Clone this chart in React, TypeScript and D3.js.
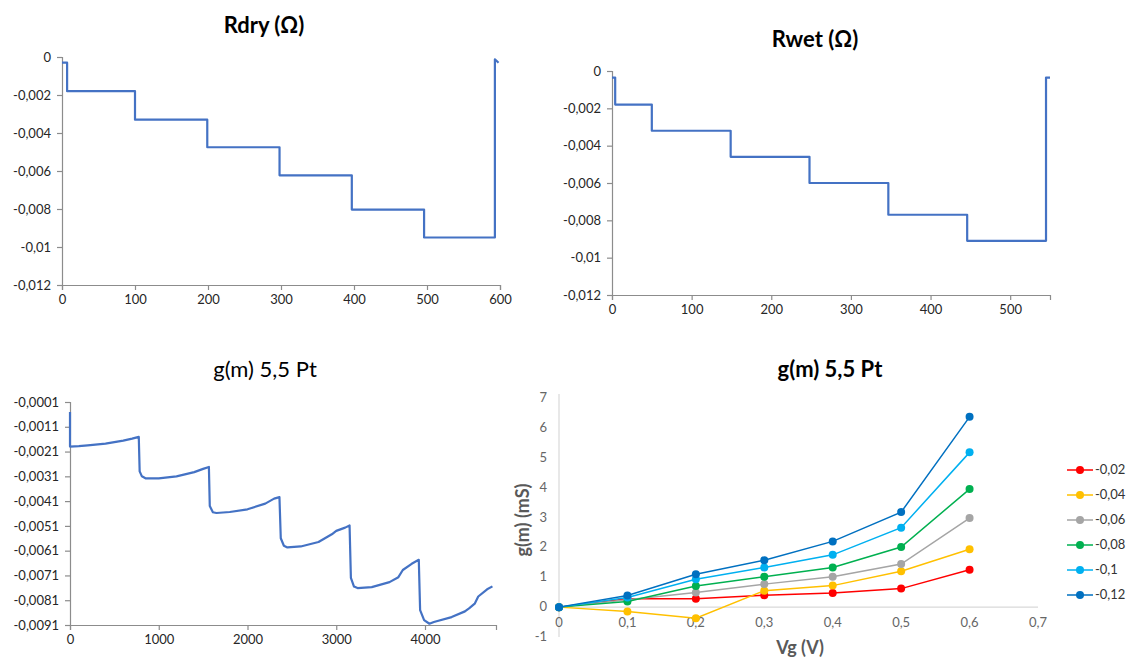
import React, { useEffect, useRef } from 'react';
import * as d3 from 'd3';

// Rdry (Ω) trace
const rdryTime = [0, 7, 7, 100, 100, 199, 199, 298, 298, 397, 397, 496, 496, 593, 593, 598];
const rdryValue = [-0.0003, -0.0003, -0.0018, -0.0018, -0.0033, -0.0033, -0.00475, -0.00475, -0.00623, -0.00623, -0.00803, -0.00803, -0.0095, -0.0095, -0.00012, -0.0003];

// Rwet (Ω) trace
const rwetTime = [0, 4, 4, 50, 50, 149, 149, 248, 248, 347, 347, 446, 446, 545, 545, 550];
const rwetValue = [-0.00035, -0.00035, -0.0018, -0.0018, -0.0032, -0.0032, -0.0046, -0.0046, -0.006, -0.006, -0.0077, -0.0077, -0.0091, -0.0091, -0.00035, -0.00035];

// g(m) 5,5 Pt trace
const gmTime = [0, 0, 100, 200, 400, 600, 700, 775, 785, 810, 850, 1000, 1200, 1400, 1500, 1565, 1575, 1610, 1650, 1800, 2000, 2200, 2300, 2360, 2375, 2410, 2450, 2600, 2800, 2950, 3000, 3100, 3150, 3165, 3200, 3240, 3400, 3600, 3700, 3750, 3850, 3930, 3945, 3990, 4050, 4100, 4300, 4450, 4500, 4560, 4600, 4700, 4760];
const gmValue = [-0.0005, -0.0019, -0.00188, -0.00185, -0.00178, -0.00166, -0.00158, -0.00151, -0.0029, -0.0031, -0.00318, -0.00318, -0.0031, -0.00293, -0.0028, -0.00272, -0.0043, -0.00455, -0.00458, -0.00454, -0.00443, -0.0042, -0.004, -0.00394, -0.0056, -0.0059, -0.00597, -0.00593, -0.00575, -0.00544, -0.0053, -0.00517, -0.00508, -0.0072, -0.00755, -0.00761, -0.00757, -0.00737, -0.00717, -0.00688, -0.00663, -0.00647, -0.0085, -0.0089, -0.00905, -0.00898, -0.00878, -0.00855, -0.00842, -0.00824, -0.00795, -0.00766, -0.00754];

// g(m) vs Vg
const vg = [0, 0.1, 0.2, 0.3, 0.4, 0.5, 0.6];
const seriesNames = ['-0,02', '-0,04', '-0,06', '-0,08', '-0,1', '-0,12'];
const seriesColors = ['#FF0000', '#FFC000', '#A5A5A5', '#00B050', '#00B0F0', '#0070C0'];
const gm002 = [0, 0.28, 0.28, 0.4, 0.47, 0.62, 1.25];
const gm004 = [0, -0.15, -0.37, 0.55, 0.72, 1.2, 1.94];
const gm006 = [0, 0.25, 0.49, 0.77, 1.02, 1.44, 2.98];
const gm008 = [0, 0.19, 0.71, 1.02, 1.33, 2.01, 3.95];
const gm010 = [0, 0.32, 0.93, 1.33, 1.75, 2.66, 5.18];
const gm012 = [0, 0.39, 1.1, 1.57, 2.2, 3.18, 6.37];

const rTicks = [0, -0.002, -0.004, -0.006, -0.008, -0.01, -0.012];
const gmTicks = [-0.0001, -0.0011, -0.0021, -0.0031, -0.0041, -0.0051, -0.0061, -0.0071, -0.0081, -0.0091];
const vgTicks = [0, 0.1, 0.2, 0.3, 0.4, 0.5, 0.6, 0.7];
const gTicks = [-1, 0, 1, 2, 3, 4, 5, 6, 7];

const FONT = 'Lato, "Open Sans", sans-serif';
const comma = (v: number) => String(+v.toFixed(6)).replace('.', ',');

type Panel = {
  title: string;
  bold: boolean;
  titleX: number;
  titleY: number;
  x0: number; x1: number; y0: number; y1: number;
  xDomain: [number, number];
  yDomain: [number, number];
  xTicks: number[];
  yTicks: number[];
  xs: number[];
  ys: number[];
};

function drawTrace(svg: d3.Selection<SVGSVGElement, unknown, null, undefined>, p: Panel) {
  const x = d3.scaleLinear().domain(p.xDomain).range([p.x0, p.x1]);
  const y = d3.scaleLinear().domain(p.yDomain).range([p.y1, p.y0]);
  const g = svg.append('g');

  g.append('text')
    .attr('x', p.titleX).attr('y', p.titleY)
    .attr('text-anchor', 'middle')
    .attr('font-family', FONT)
    .attr('font-size', 22)
    .attr('font-weight', p.bold ? 'bold' : 'normal')
    .attr('fill', '#000')
    .text(p.title);

  const yAxis = d3.axisLeft(y).tickValues(p.yTicks).tickSize(5).tickPadding(6).tickFormat(d => comma(+d));
  const xAxis = d3.axisBottom(x).tickValues(p.xTicks).tickSize(5).tickPadding(5).tickFormat(d => String(d));

  const ya = g.append('g').attr('transform', `translate(${p.x0},0)`).call(yAxis);
  const xa = g.append('g').attr('transform', `translate(0,${p.y1})`).call(xAxis);
  [ya, xa].forEach(a => {
    a.select('.domain').attr('stroke', '#8c8c8c').attr('stroke-width', 1.2);
    a.selectAll('.tick line').attr('stroke', '#8c8c8c').attr('stroke-width', 1.2);
    a.selectAll('.tick text').attr('font-family', FONT).attr('font-size', 13).attr('fill', '#262626');
  });

  const line = d3.line<number>().x((_, i) => x(p.xs[i])).y(d => y(d));
  g.append('path')
    .attr('d', line(p.ys))
    .attr('fill', 'none')
    .attr('stroke', '#4472C4')
    .attr('stroke-width', 2.2)
    .attr('stroke-linejoin', 'round');
}

export default function App() {
  const svgRef = useRef<SVGSVGElement>(null);

  useEffect(() => {
    const svg = d3.select(svgRef.current!);
    svg.selectAll('*').remove();

    drawTrace(svg, {
      title: 'Rdry (Ω)', bold: true, titleX: 264, titleY: 33,
      x0: 62, x1: 500, y0: 57, y1: 285,
      xDomain: [0, 600], yDomain: [-0.012, 0],
      xTicks: [0, 100, 200, 300, 400, 500, 600], yTicks: rTicks,
      xs: rdryTime, ys: rdryValue,
    });

    drawTrace(svg, {
      title: 'Rwet (Ω)', bold: true, titleX: 815, titleY: 47,
      x0: 612, x1: 1050, y0: 71, y1: 295,
      xDomain: [0, 550], yDomain: [-0.012, 0],
      xTicks: [0, 100, 200, 300, 400, 500], yTicks: rTicks,
      xs: rwetTime, ys: rwetValue,
    });

    drawTrace(svg, {
      title: 'g(m) 5,5 Pt', bold: false, titleX: 265, titleY: 377,
      x0: 70, x1: 496, y0: 402, y1: 625,
      xDomain: [0, 4800], yDomain: [-0.0091, -0.0001],
      xTicks: [0, 1000, 2000, 3000, 4000], yTicks: gmTicks,
      xs: gmTime, ys: gmValue,
    });

    // g(m) vs Vg panel
    const x = d3.scaleLinear().domain([0, 0.7]).range([559, 1038]);
    const y = d3.scaleLinear().domain([-1, 7]).range([637, 398]);
    const g = svg.append('g');

    g.append('text')
      .attr('x', 830).attr('y', 377)
      .attr('text-anchor', 'middle')
      .attr('font-family', FONT).attr('font-size', 22).attr('font-weight', 'bold')
      .text('g(m) 5,5 Pt');

    g.append('line')
      .attr('x1', x(0)).attr('x2', x(0)).attr('y1', y(7) - 4).attr('y2', y(-1))
      .attr('stroke', '#d9d9d9').attr('stroke-width', 1.2);
    g.append('line')
      .attr('x1', x(0)).attr('x2', x(0.7)).attr('y1', y(0)).attr('y2', y(0))
      .attr('stroke', '#d9d9d9').attr('stroke-width', 1.2);

    g.selectAll('.ylab').data(gTicks).join('text')
      .attr('x', x(0) - 12).attr('y', d => y(d) + 4)
      .attr('text-anchor', 'end')
      .attr('font-family', FONT).attr('font-size', 13).attr('fill', '#666')
      .text(d => String(d));

    g.selectAll('.xlab').data(vgTicks).join('text')
      .attr('x', d => x(d)).attr('y', y(0) + 20)
      .attr('text-anchor', 'middle')
      .attr('font-family', FONT).attr('font-size', 13).attr('fill', '#666')
      .text(d => comma(d));

    g.append('text')
      .attr('transform', `translate(529,520) rotate(-90)`)
      .attr('text-anchor', 'middle')
      .attr('font-family', FONT).attr('font-size', 18).attr('font-weight', 'bold').attr('fill', '#595959')
      .text('g(m) (mS)');

    g.append('text')
      .attr('x', 800).attr('y', 654)
      .attr('text-anchor', 'middle')
      .attr('font-family', FONT).attr('font-size', 18).attr('font-weight', 'bold').attr('fill', '#595959')
      .text('Vg (V)');

    const series = [gm002, gm004, gm006, gm008, gm010, gm012];
    const line = d3.line<number>().x((_, i) => x(vg[i])).y(d => y(d));
    series.forEach((s, k) => {
      const sg = g.append('g');
      sg.append('path')
        .attr('d', line(s))
        .attr('fill', 'none')
        .attr('stroke', seriesColors[k])
        .attr('stroke-width', 1.5);
      sg.selectAll('circle').data(s).join('circle')
        .attr('cx', (_, i) => x(vg[i]))
        .attr('cy', d => y(d))
        .attr('r', 4)
        .attr('fill', seriesColors[k]);
    });

    // legend
    const lg = g.append('g');
    seriesNames.forEach((name, k) => {
      const ly = 470 + k * 25;
      lg.append('line')
        .attr('x1', 1067).attr('x2', 1093).attr('y1', ly).attr('y2', ly)
        .attr('stroke', seriesColors[k]).attr('stroke-width', 1.5);
      lg.append('circle')
        .attr('cx', 1080).attr('cy', ly).attr('r', 4)
        .attr('fill', seriesColors[k]);
      lg.append('text')
        .attr('x', 1095).attr('y', ly + 4)
        .attr('font-family', FONT).attr('font-size', 13).attr('fill', '#333')
        .text(name);
    });
  }, []);

  return (
    <svg
      ref={svgRef}
      width={1131}
      height={660}
      style={{ position: 'absolute', left: 0, top: 0, background: '#fff' }}
    />
  );
}
